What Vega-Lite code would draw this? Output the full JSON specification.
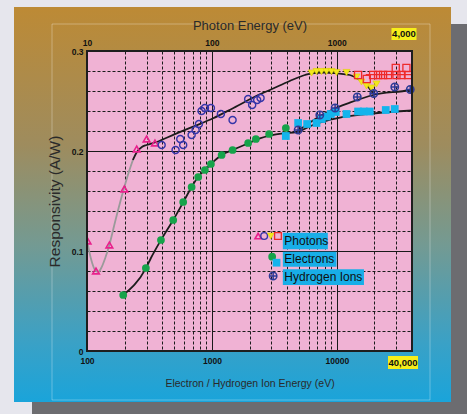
{
  "$schema": "https://vega.github.io/schema/vega-lite/v6.json",
  "width": 325,
  "height": 300,
  "autosize": {"type": "none"},
  "padding": {"left": 87, "top": 51, "right": 55, "bottom": 63},
  "background": "#e6e6ed",
  "config": {
    "font": "Liberation Sans",
    "view": {"fill": "#f0b2d4", "stroke": null},
    "axis": {"labelFont": "Liberation Sans", "titleFont": "Liberation Sans", "labelColor": "#111111", "titleColor": "#2a2a2a", "labelFontSize": 8.5, "labelFontWeight": "bold", "titleFontWeight": "normal"}
  },
  "resolve": {"axis": {"x": "independent", "y": "independent"}},
  "datasets": {
    "pfGray": [{"E":100,"R":0.111},{"E":104,"R":0.100},{"E":110,"R":0.088},{"E":116,"R":0.081},{"E":123,"R":0.079},{"E":130,"R":0.083},{"E":140,"R":0.093},{"E":151,"R":0.106},{"E":170,"R":0.132},{"E":195,"R":0.160},{"E":215,"R":0.178},{"E":233,"R":0.191}],
    "pfBlack": [{"E":233,"R":0.191},{"E":251,"R":0.199},{"E":275,"R":0.204},{"E":300,"R":0.206},{"E":361,"R":0.209},{"E":500,"R":0.2166},{"E":700,"R":0.2241},{"E":1024,"R":0.2327},{"E":1500,"R":0.2433},{"E":2420,"R":0.2567},{"E":2910,"R":0.261},{"E":4200,"R":0.270},{"E":5550,"R":0.276},{"E":6280,"R":0.2777},{"E":8000,"R":0.2785},{"E":9950,"R":0.2777},{"E":12700,"R":0.276},{"E":15300,"R":0.271},{"E":17300,"R":0.266},{"E":19500,"R":0.2577}],
    "efit": [{"E":195,"R":0.056},{"E":296,"R":0.0827},{"E":325,"R":0.093},{"E":391,"R":0.111},{"E":490,"R":0.131},{"E":589,"R":0.1487},{"E":688,"R":0.164},{"E":777,"R":0.1743},{"E":879,"R":0.181},{"E":982,"R":0.187},{"E":1196,"R":0.196},{"E":1464,"R":0.201},{"E":1951,"R":0.2077},{"E":2421,"R":0.2127},{"E":3720,"R":0.2177},{"E":4760,"R":0.219},{"E":6880,"R":0.2275},{"E":9945,"R":0.2327},{"E":19520,"R":0.2375},{"E":40000,"R":0.2405}],
    "hfit": [{"E":4760,"R":0.219},{"E":7086,"R":0.2337},{"E":9070,"R":0.241},{"E":12700,"R":0.2483},{"E":19520,"R":0.256},{"E":38370,"R":0.261},{"E":40000,"R":0.2615}],
    "redline": [{"E":17060,"R":0.2763},{"E":40000,"R":0.2763}],
    "tri": [{"E":101,"R":0.110},{"E":118,"R":0.080},{"E":151,"R":0.106},{"E":199,"R":0.162},{"E":250,"R":0.202},{"E":300,"R":0.212},{"E":350,"R":0.208}],
    "circ": [{"E":396,"R":0.206},{"E":512,"R":0.201},{"E":558,"R":0.212},{"E":589,"R":0.206},{"E":688,"R":0.216},{"E":741,"R":0.221},{"E":787,"R":0.227},{"E":827,"R":0.240},{"E":879,"R":0.243},{"E":982,"R":0.243},{"E":1180,"R":0.237},{"E":1464,"R":0.231},{"E":1951,"R":0.252},{"E":2101,"R":0.246},{"E":2304,"R":0.251},{"E":2453,"R":0.253}],
    "yel": [{"E":6280,"R":0.278},{"E":6880,"R":0.2795},{"E":7540,"R":0.2795},{"E":8270,"R":0.2795},{"E":9070,"R":0.2795},{"E":9950,"R":0.2785},{"E":11960,"R":0.2785},{"E":14370,"R":0.274},{"E":15760,"R":0.269},{"E":17280,"R":0.265},{"E":18950,"R":0.263},{"E":20780,"R":0.267}],
    "redsq": [{"E":14800,"R":0.276},{"E":17380,"R":0.272},{"E":19520,"R":0.276},{"E":21400,"R":0.276},{"E":23460,"R":0.276},{"E":25730,"R":0.276},{"E":29650,"R":0.283},{"E":30040,"R":0.276},{"E":32930,"R":0.276},{"E":36100,"R":0.283},{"E":37190,"R":0.276}],
    "green": [{"E":195,"R":0.056},{"E":296,"R":0.083},{"E":391,"R":0.111},{"E":490,"R":0.131},{"E":589,"R":0.149},{"E":688,"R":0.164},{"E":777,"R":0.174},{"E":879,"R":0.181},{"E":982,"R":0.187},{"E":1196,"R":0.196},{"E":1464,"R":0.201},{"E":1951,"R":0.208},{"E":2249,"R":0.212},{"E":2873,"R":0.217},{"E":3908,"R":0.223}],
    "cyan": [{"E":3908,"R":0.215},{"E":4902,"R":0.228},{"E":5787,"R":0.227},{"E":6880,"R":0.228},{"E":7586,"R":0.232},{"E":8318,"R":0.2345},{"E":8954,"R":0.237},{"E":9817,"R":0.239},{"E":11960,"R":0.237},{"E":14800,"R":0.2395},{"E":16440,"R":0.2395},{"E":18370,"R":0.2395},{"E":24660,"R":0.241},{"E":29110,"R":0.242}],
    "hion": [{"E":4902,"R":0.221},{"E":7311,"R":0.236},{"E":9692,"R":0.243},{"E":14590,"R":0.254},{"E":19770,"R":0.2575},{"E":29110,"R":0.264},{"E":38730,"R":0.2615}]
  },
  "layer": [
    {"data": {"values": [{}]}, "mark": {"type": "rect", "fill": "#6c6c70", "xOffset": 39, "x2Offset": 60, "yOffset": -27, "y2Offset": 70},
     "encoding": {"x": {"datum": 40000, "type": "quantitative", "scale": {"type": "log", "domain": [100, 40000], "nice": false}, "axis": null}, "x2": {"datum": 40000},
                  "y": {"datum": 0.3, "type": "quantitative", "scale": {"domain": [0, 0.3], "nice": false, "zero": false}, "axis": null}, "y2": {"datum": 0}}},
    {"data": {"values": [{}]}, "mark": {"type": "rect", "fill": "#6c6c70", "xOffset": -55, "x2Offset": 39, "yOffset": 51, "y2Offset": 70},
     "encoding": {"x": {"datum": 100, "axis": null}, "x2": {"datum": 40000}, "y": {"datum": 0, "axis": null}, "y2": {"datum": 0}}},
    {"data": {"values": [{}]}, "mark": {"type": "rect", "xOffset": -73, "x2Offset": 1, "yOffset": -44, "y2Offset": 51,
      "fill": {"gradient": "linear", "x1": 0, "y1": 0, "x2": 0, "y2": 1, "stops": [{"offset": 0, "color": "#bd8a35"}, {"offset": 0.35, "color": "#9e8c5e"}, {"offset": 0.6, "color": "#749a92"}, {"offset": 0.85, "color": "#3aa1c6"}, {"offset": 1, "color": "#1aa4da"}]}},
     "encoding": {"x": {"datum": 100, "axis": null}, "x2": {"datum": 100}, "y": {"datum": 0.3, "axis": null}, "y2": {"datum": 0}}},
    {"data": {"values": [{}]}, "mark": {"type": "rect", "xOffset": -1, "x2Offset": 39, "yOffset": -44, "y2Offset": 51,
      "fill": {"gradient": "linear", "x1": 0, "y1": 0, "x2": 0, "y2": 1, "stops": [{"offset": 0, "color": "#bd8a35"}, {"offset": 0.35, "color": "#9e8c5e"}, {"offset": 0.6, "color": "#749a92"}, {"offset": 0.85, "color": "#3aa1c6"}, {"offset": 1, "color": "#1aa4da"}]}},
     "encoding": {"x": {"datum": 40000, "axis": null}, "x2": {"datum": 40000}, "y": {"datum": 0.3, "axis": null}, "y2": {"datum": 0}}},
    {"data": {"values": [{}]}, "mark": {"type": "rect", "yOffset": -44, "y2Offset": 1,
      "fill": {"gradient": "linear", "x1": 0, "y1": 0, "x2": 0, "y2": 1, "stops": [{"offset": 0, "color": "#bd8a35"}, {"offset": 1, "color": "#b38b42"}]}},
     "encoding": {"x": {"datum": 100, "axis": null}, "x2": {"datum": 40000}, "y": {"datum": 0.3, "axis": null}, "y2": {"datum": 0.3}}},
    {"data": {"values": [{}]}, "mark": {"type": "rect", "yOffset": -1, "y2Offset": 51,
      "fill": {"gradient": "linear", "x1": 0, "y1": 0, "x2": 0, "y2": 1, "stops": [{"offset": 0, "color": "#35a1c9"}, {"offset": 1, "color": "#1aa4da"}]}},
     "encoding": {"x": {"datum": 100, "axis": null}, "x2": {"datum": 40000}, "y": {"datum": 0, "axis": null}, "y2": {"datum": 0}}},
    {"data": {"values": [{}]}, "mark": {"type": "rect", "filled": false, "stroke": "#ffffff", "strokeOpacity": 0.3, "strokeWidth": 1, "xOffset": -35, "x2Offset": 18, "yOffset": -27, "y2Offset": 49},
     "encoding": {"x": {"datum": 100, "axis": null}, "x2": {"datum": 40000}, "y": {"datum": 0.3, "axis": null}, "y2": {"datum": 0}}},

    {"data": {"name": "pfGray"}, "mark": {"type": "line", "stroke": "#9a9a9a", "strokeWidth": 1.8, "interpolate": "monotone", "clip": true},
     "encoding": {
       "x": {"field": "E", "type": "quantitative", "axis": {"orient": "bottom", "values": [200,300,400,500,600,700,800,900,1000,2000,3000,4000,5000,6000,7000,8000,9000,10000,20000,30000], "grid": true, "gridColor": "#1a1a1a", "gridWidth": 1, "gridDash": {"condition": {"test": "datum.value == 1000 || datum.value == 10000", "value": []}, "value": [3, 2]}, "labels": false, "ticks": false, "domain": false, "title": null, "zindex": 0}},
       "y": {"field": "R", "type": "quantitative", "axis": {"orient": "left", "values": [0.02,0.04,0.06,0.08,0.1,0.12,0.14,0.16,0.18,0.2,0.22,0.24,0.26,0.28], "grid": true, "gridColor": "#1a1a1a", "gridWidth": 1, "gridDash": {"condition": {"test": "datum.value == 0.1 || datum.value == 0.2", "value": []}, "value": [3, 2]}, "labels": false, "ticks": false, "domain": false, "title": null, "zindex": 0}}}},
    {"data": {"name": "pfBlack"}, "mark": {"type": "line", "stroke": "#1c1c1c", "strokeWidth": 1.8, "interpolate": "monotone"},
     "encoding": {"x": {"field": "E", "type": "quantitative", "axis": null}, "y": {"field": "R", "type": "quantitative", "axis": null}}},
    {"data": {"name": "efit"}, "mark": {"type": "line", "stroke": "#1c1c1c", "strokeWidth": 1.8, "interpolate": "monotone"},
     "encoding": {
       "x": {"field": "E", "type": "quantitative", "axis": {"orient": "bottom", "values": [100, 1000, 10000], "format": "d", "grid": false, "ticks": false, "domain": false, "labelFlush": false, "labelOverlap": false, "labelPadding": 5, "title": "Electron / Hydrogen Ion Energy (eV)", "titleFontSize": 10.5, "titlePadding": 14, "zindex": 1}},
       "y": {"field": "R", "type": "quantitative", "axis": {"orient": "left", "values": [0, 0.1, 0.2, 0.3], "labelExpr": "datum.value == 0 ? '0' : format(datum.value, '.1f')", "grid": false, "ticks": false, "domain": false, "labelFlush": false, "labelOverlap": false, "labelPadding": 4, "title": "Responsivity (A/W)", "titleFontSize": 15.5, "titlePadding": 9, "zindex": 1}}}},
    {"data": {"name": "hfit"}, "mark": {"type": "line", "stroke": "#1c1c1c", "strokeWidth": 1.8, "interpolate": "monotone"},
     "encoding": {
       "x": {"field": "E", "type": "quantitative", "axis": {"orient": "top", "values": [100, 1000, 10000], "labelExpr": "format(datum.value / 10, 'd')", "grid": false, "ticks": false, "domain": false, "labelFlush": false, "labelOverlap": false, "labelPadding": 4, "title": "Photon Energy (eV)", "titleFontSize": 13, "titlePadding": 6, "zindex": 1}},
       "y": {"field": "R", "type": "quantitative", "axis": null}}},
    {"data": {"name": "redline"}, "mark": {"type": "line", "stroke": "#ee2a2a", "strokeWidth": 1.2},
     "encoding": {"x": {"field": "E", "type": "quantitative", "axis": null}, "y": {"field": "R", "type": "quantitative", "axis": null}}},

    {"data": {"name": "tri"}, "mark": {"type": "point", "shape": "triangle-up", "filled": false, "stroke": "#e8208c", "strokeWidth": 1.6, "size": 45, "opacity": 1, "clip": true},
     "encoding": {"x": {"field": "E", "type": "quantitative", "axis": null}, "y": {"field": "R", "type": "quantitative", "axis": null}}},
    {"data": {"name": "circ"}, "mark": {"type": "point", "shape": "circle", "filled": false, "stroke": "#3535a8", "strokeWidth": 1.4, "size": 50, "opacity": 1},
     "encoding": {"x": {"field": "E", "type": "quantitative", "axis": null}, "y": {"field": "R", "type": "quantitative", "axis": null}}},
    {"data": {"name": "yel"}, "mark": {"type": "point", "shape": "triangle-down", "filled": true, "fill": "#f2e81e", "stroke": "#e0d400", "strokeWidth": 0.6, "size": 50, "opacity": 1},
     "encoding": {"x": {"field": "E", "type": "quantitative", "axis": null}, "y": {"field": "R", "type": "quantitative", "axis": null}}},
    {"data": {"name": "redsq"}, "mark": {"type": "point", "shape": "square", "filled": false, "stroke": "#ee2a2a", "strokeWidth": 1.3, "size": 50, "opacity": 1},
     "encoding": {"x": {"field": "E", "type": "quantitative", "axis": null}, "y": {"field": "R", "type": "quantitative", "axis": null}}},
    {"data": {"name": "green"}, "mark": {"type": "point", "shape": "circle", "filled": true, "fill": "#16a34a", "size": 60, "opacity": 1},
     "encoding": {"x": {"field": "E", "type": "quantitative", "axis": null}, "y": {"field": "R", "type": "quantitative", "axis": null}}},
    {"data": {"name": "cyan"}, "mark": {"type": "point", "shape": "square", "filled": true, "fill": "#14b4ec", "size": 60, "opacity": 1},
     "encoding": {"x": {"field": "E", "type": "quantitative", "axis": null}, "y": {"field": "R", "type": "quantitative", "axis": null}}},
    {"data": {"name": "hion"}, "mark": {"type": "point", "shape": "M-1,0A1,1,0,1,1,1,0A1,1,0,1,1,-1,0ZM-1,0L1,0M0,-1L0,1", "filled": false, "stroke": "#2d3a96", "strokeWidth": 1.5, "size": 55, "opacity": 1},
     "encoding": {"x": {"field": "E", "type": "quantitative", "axis": null}, "y": {"field": "R", "type": "quantitative", "axis": null}}},

    {"data": {"values": [{}]}, "mark": {"type": "rect", "fill": "#18aee8"},
     "encoding": {"x": {"datum": 3698, "axis": null}, "x2": {"datum": 8473}, "y": {"datum": 0.1183, "axis": null}, "y2": {"datum": 0.1017}}},
    {"data": {"values": [{}]}, "mark": {"type": "rect", "fill": "#18aee8"},
     "encoding": {"x": {"datum": 3698, "axis": null}, "x2": {"datum": 9945}, "y": {"datum": 0.0993, "axis": null}, "y2": {"datum": 0.0843}}},
    {"data": {"values": [{}]}, "mark": {"type": "rect", "fill": "#18aee8"},
     "encoding": {"x": {"datum": 3698, "axis": null}, "x2": {"datum": 16500}, "y": {"datum": 0.0817, "axis": null}, "y2": {"datum": 0.066}}},
    {"data": {"values": [{}]}, "mark": {"type": "point", "shape": "triangle-up", "filled": false, "stroke": "#e8208c", "strokeWidth": 1.6, "size": 40, "opacity": 1},
     "encoding": {"x": {"datum": 2346, "axis": null}, "y": {"datum": 0.115, "axis": null}}},
    {"data": {"values": [{}]}, "mark": {"type": "point", "shape": "circle", "filled": false, "stroke": "#3535a8", "strokeWidth": 1.4, "size": 45, "opacity": 1},
     "encoding": {"x": {"datum": 2620, "axis": null}, "y": {"datum": 0.115, "axis": null}}},
    {"data": {"values": [{}]}, "mark": {"type": "point", "shape": "triangle-down", "filled": true, "fill": "#f2e81e", "stroke": "#e0d400", "strokeWidth": 0.6, "size": 45, "opacity": 1},
     "encoding": {"x": {"datum": 2960, "axis": null}, "y": {"datum": 0.115, "axis": null}}},
    {"data": {"values": [{}]}, "mark": {"type": "point", "shape": "square", "filled": false, "stroke": "#ee2a2a", "strokeWidth": 1.3, "size": 45, "opacity": 1},
     "encoding": {"x": {"datum": 3380, "axis": null}, "y": {"datum": 0.115, "axis": null}}},
    {"data": {"values": [{}]}, "mark": {"type": "point", "shape": "circle", "filled": true, "fill": "#16a34a", "size": 60, "opacity": 1},
     "encoding": {"x": {"datum": 3037, "axis": null}, "y": {"datum": 0.0943, "axis": null}}},
    {"data": {"values": [{}]}, "mark": {"type": "point", "shape": "square", "filled": true, "fill": "#14b4ec", "size": 60, "opacity": 1},
     "encoding": {"x": {"datum": 3293, "axis": null}, "y": {"datum": 0.0883, "axis": null}}},
    {"data": {"values": [{}]}, "mark": {"type": "point", "shape": "M-1,0A1,1,0,1,1,1,0A1,1,0,1,1,-1,0ZM-1,0L1,0M0,-1L0,1", "filled": false, "stroke": "#2d3a96", "strokeWidth": 1.5, "size": 55, "opacity": 1},
     "encoding": {"x": {"datum": 3093, "axis": null}, "y": {"datum": 0.075, "axis": null}}},
    {"data": {"values": [{}]}, "mark": {"type": "text", "text": "Photons", "align": "left", "baseline": "middle", "fontSize": 12, "fill": "#101010"},
     "encoding": {"x": {"datum": 3800, "axis": null}, "y": {"datum": 0.110, "axis": null}}},
    {"data": {"values": [{}]}, "mark": {"type": "text", "text": "Electrons", "align": "left", "baseline": "middle", "fontSize": 12, "fill": "#101010"},
     "encoding": {"x": {"datum": 3800, "axis": null}, "y": {"datum": 0.092, "axis": null}}},
    {"data": {"values": [{}]}, "mark": {"type": "text", "text": "Hydrogen Ions", "align": "left", "baseline": "middle", "fontSize": 12, "fill": "#101010"},
     "encoding": {"x": {"datum": 3800, "axis": null}, "y": {"datum": 0.074, "axis": null}}},

    {"data": {"values": [{}]}, "mark": {"type": "point", "shape": "M-1,-0.433L1,-0.433L1,0.433L-1,0.433Z", "filled": true, "fill": "#f6ee1a", "size": 900, "opacity": 1, "xOffset": -9, "yOffset": 11.5},
     "encoding": {"x": {"datum": 40000, "axis": null}, "y": {"datum": 0, "axis": null}}},
    {"data": {"values": [{}]}, "mark": {"type": "text", "text": "40,000", "align": "center", "baseline": "middle", "fontSize": 9.5, "fontWeight": "bold", "fill": "#111111", "xOffset": -9, "yOffset": 11.5},
     "encoding": {"x": {"datum": 40000, "axis": null}, "y": {"datum": 0, "axis": null}}},
    {"data": {"values": [{}]}, "mark": {"type": "point", "shape": "M-1,-0.48L1,-0.48L1,0.48L-1,0.48Z", "filled": true, "fill": "#f6ee1a", "size": 625, "opacity": 1, "xOffset": -8, "yOffset": -17},
     "encoding": {"x": {"datum": 40000, "axis": null}, "y": {"datum": 0.3, "axis": null}}},
    {"data": {"values": [{}]}, "mark": {"type": "text", "text": "4,000", "align": "center", "baseline": "middle", "fontSize": 9.5, "fontWeight": "bold", "fill": "#111111", "xOffset": -8, "yOffset": -17},
     "encoding": {"x": {"datum": 40000, "axis": null}, "y": {"datum": 0.3, "axis": null}}},

    {"data": {"values": [{}]}, "mark": {"type": "rect", "filled": false, "stroke": "#1e1e1e", "strokeWidth": 2},
     "encoding": {"x": {"datum": 100, "axis": null}, "x2": {"datum": 40000}, "y": {"datum": 0.3, "axis": null}, "y2": {"datum": 0}}}
  ]
}
